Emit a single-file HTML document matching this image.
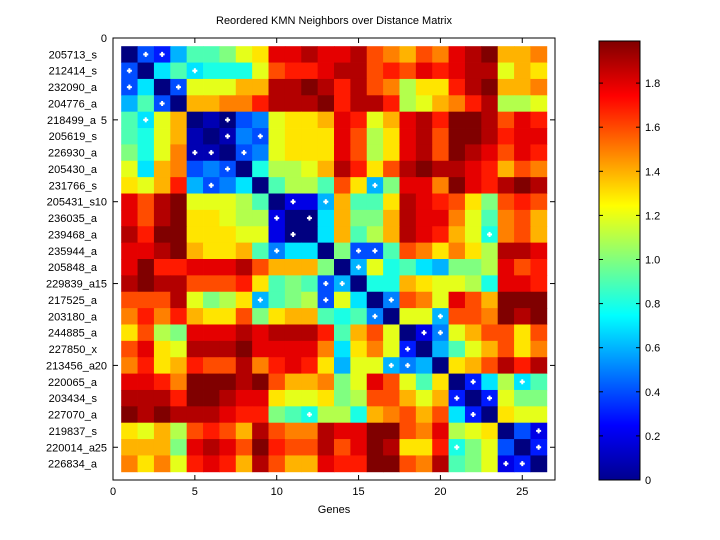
<!DOCTYPE html>
<html><head><meta charset="utf-8"><style>
html,body{margin:0;padding:0;background:#fff;}
svg{display:block;}
text{font-family:"Liberation Sans",sans-serif;font-size:11px;fill:#000;}
</style></head><body>
<svg id="s" width="720" height="540" viewBox="0 0 720 540" xmlns="http://www.w3.org/2000/svg">
<defs>
<linearGradient id="jet" x1="0" y1="1" x2="0" y2="0">
<stop offset="0" stop-color="#00008f"/>
<stop offset="0.125" stop-color="#0000ff"/>
<stop offset="0.375" stop-color="#00ffff"/>
<stop offset="0.625" stop-color="#ffff00"/>
<stop offset="0.875" stop-color="#ff0000"/>
<stop offset="1" stop-color="#800000"/>
</linearGradient>
</defs>
<rect x="0" y="0" width="720" height="540" fill="#fff"/>
<g id="cells"></g>
<rect x="113" y="38" width="442" height="442" fill="none" stroke="#000" stroke-width="1"/>
<g id="ticks" stroke="#000" stroke-width="1"></g>
<text x="334" y="24" text-anchor="middle">Reordered KMN Neighbors over Distance Matrix</text>
<text x="334" y="513" text-anchor="middle">Genes</text>
<g id="labels"></g>
<rect x="599" y="41" width="41" height="439" fill="url(#jet)" stroke="#000" stroke-width="1"/>
<g id="cb"></g>
</svg>
<script>
var rows=[
"043699ACDIIJIIJGFEGFIJKEEF",
"40797888CGHHIJJGHGIHIJJCED",
"4704CCCEEJJKJHJGFBDDHJKEEF",
"6940EEFFHJJJKHJJHBCEFHJBBC",
"97CE01045CDDEIHCEIJHKKJGIH",
"98CE10154CDDDIGBDIJGKKJHII",
"A8CF11045CDDDIGBDIJGKJIGIH",
"C7EF45408BBCEJHDGJKJJIHEGF",
"DCEH645709BB9GD6AIIFKIHJKJ",
"IGJKCCCB90226E99DJIHGDAGHG",
"IGJKDDCBB2007EAAEJIIFC9FGE",
"JHKKDDDCC2007E9BEJIHEC8FGE",
"IIJKEDDE95770A449GFDFDBJJI",
"IKHHIIIJGEEEA06C8976AABIGH",
"JKJJGGGHD9A946088EDCCB8IIH",
"GGGJCABD69AB4C705GFCIGEKKK",
"FHFHEDDGADEE98950CC6GGFKJK",
"DGBAIIIJIJJJH9EGC025CEGGDG",
"GIDCJJJKIIIIF7DFC3069CEGDF",
"FHDEHGGJFHIHD6CC6560DEGJHJ",
"IIHFKKKJKGEEFACIGC9D037B79",
"JJJHKKJIIDCCDABGGECE303CAA",
"KJKJJJIHHA98BB8EFGEG730DCC",
"DCEBGHGEJGFFJIIKKGFIBCD042",
"EEEAIJIGKHGGJGIKJDDH8AC403",
"FDFCHIHEJGEEIHHKKGFJ9AC230"];
var dots=[[1,2],[1,3],[2,1],[2,5],[3,1],[3,4],[4,3],[5,2],[5,7],[6,7],[6,9],[7,5],[7,6],[7,8],[8,7],[9,6],[9,16],[10,11],[10,13],[11,10],[11,12],[12,11],[12,23],[13,10],[13,15],[13,16],
[14,15],[15,14],[15,13],[16,9],[16,13],[16,17],[17,16],[17,20],[18,19],[18,20],[19,18],[20,17],[20,18],[21,22],[21,25],[22,21],[22,23],[23,22],[23,12],[24,26],[25,21],[25,26],[26,24],[26,25]];
var codes="0123456789ABCDEFGHIJK";
function cl(v){return Math.max(0,Math.min(1,v));}
function jet(t){var r=cl(1.5-Math.abs(4*t-3)),g=cl(1.5-Math.abs(4*t-2)),b=cl(1.5-Math.abs(4*t-1));
return "rgb("+Math.round(r*255)+","+Math.round(g*255)+","+Math.round(b*255)+")";}
var NS="http://www.w3.org/2000/svg";
function el(p,n,a,txt){var e=document.createElementNS(NS,n);for(var k in a)e.setAttribute(k,a[k]);if(txt!=null)e.textContent=txt;p.appendChild(e);return e;}
var u=442/27, g=document.getElementById("cells");
for(var r=0;r<26;r++)for(var c=0;c<26;c++){
 var t=codes.indexOf(rows[r][c])/20;
 el(g,"rect",{x:(113+(c+0.5)*u).toFixed(2),y:(38+(r+0.5)*u).toFixed(2),width:(u+0.4).toFixed(2),height:(u+0.4).toFixed(2),fill:jet(t)});
}
dots.forEach(function(d){var cx=113+d[1]*u,cy=38+d[0]*u;
 el(g,"rect",{x:cx-1,y:cy-2.5,width:2,height:5,fill:"#fff"});
 el(g,"rect",{x:cx-2.5,y:cy-1,width:5,height:2,fill:"#fff"});
});
var tk=document.getElementById("ticks"),lb=document.getElementById("labels");
for(var i=0;i<=25;i+=5){var x=113+i*u,y=38+i*u;
 el(tk,"line",{x1:x,y1:480,x2:x,y2:475});el(tk,"line",{x1:x,y1:38,x2:x,y2:43});
 el(tk,"line",{x1:113,y1:y,x2:118,y2:y});el(tk,"line",{x1:555,y1:y,x2:550,y2:y});
 el(lb,"text",{x:x,y:495,"text-anchor":"middle"},String(i));
 el(lb,"text",{x:107,y:y+4,"text-anchor":"end"},String(i));
}
var genes=["205713_s","212414_s","232090_a","204776_a","218499_a","205619_s","226930_a","205430_a","231766_s","205431_s","236035_a","239468_a","235944_a","205848_a","229839_a","217525_a","203180_a","244885_a","227850_x","213456_a","220065_a","203434_s","227070_a","219837_s","220014_a","226834_a"];
genes.forEach(function(n,i){var idx=i+1;var xe=(idx%5==0)?(idx>=10?95:96):97;
 el(lb,"text",{x:xe,y:38+idx*u+4,"text-anchor":"end"},n);});
var cb=document.getElementById("cb");
for(var v=0;v<=9;v++){var y=480-v*44.1;
 el(cb,"line",{x1:599,y1:y,x2:603,y2:y,stroke:"#000"});el(cb,"line",{x1:640,y1:y,x2:636,y2:y,stroke:"#000"});
 el(cb,"text",{x:645,y:y+4},v==0?"0":(v*0.2).toFixed(1));}
</script>
</body></html>
